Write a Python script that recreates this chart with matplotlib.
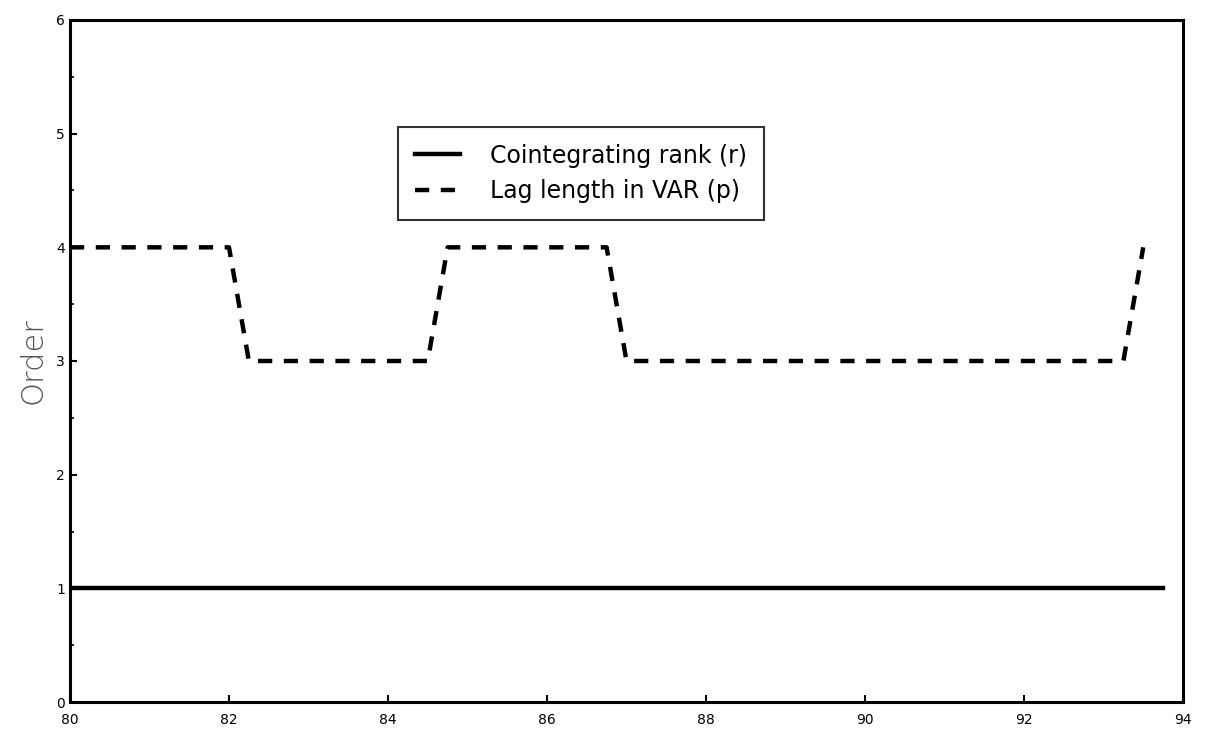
import matplotlib
matplotlib.use('Agg')
import matplotlib.pyplot as plt
from matplotlib.ticker import MultipleLocator

# Cointegrating rank and VAR lag length over time
rankYears = [80, 93.75]
rankValues = [1, 1]

lagYears = [80, 82.0, 82.25, 84.5, 84.75, 86.75, 87.0, 93.25, 93.5]
lagValues = [4, 4, 3, 3, 4, 4, 3, 3, 4]

xTicks = [80, 82, 84, 86, 88, 90, 92, 94]
yTicks = [0, 1, 2, 3, 4, 5, 6]

fig = plt.figure(figsize=(12.09, 7.32), dpi=100)
ax = fig.add_axes([70 / 1209, 30 / 732, 1113 / 1209, 682 / 732])

ax.plot(rankYears, rankValues, color='black', linewidth=3.2,
        label='Cointegrating rank (r)')
ax.plot(lagYears, lagValues, color='black', linewidth=3.2,
        dashes=(3.2, 2.6), label='Lag length in VAR (p)')

ax.set_xlim(80, 94)
ax.set_ylim(0, 6)
ax.set_xticks(xTicks)
ax.set_yticks(yTicks)
ax.yaxis.set_minor_locator(MultipleLocator(0.5))
ax.tick_params(which='major', direction='in', length=5, width=1.5,
               labelsize=10)
ax.tick_params(which='minor', direction='in', length=3, width=1.2)
ax.tick_params(axis='x', pad=8)
for s in ax.spines.values():
    s.set_linewidth(2.2)

ax.set_ylabel('Order', fontsize=22, color='#555555', fontweight='light',
              labelpad=6)

leg = ax.legend(loc='upper left', bbox_to_anchor=(0.295, 0.843),
                borderaxespad=0, fontsize=17, frameon=True, fancybox=False,
                edgecolor='black', handlelength=1.9, handletextpad=1.3,
                borderpad=0.7, labelspacing=0.5)
leg.get_frame().set_linewidth(1.5)

plt.savefig('out.png', dpi=100)
